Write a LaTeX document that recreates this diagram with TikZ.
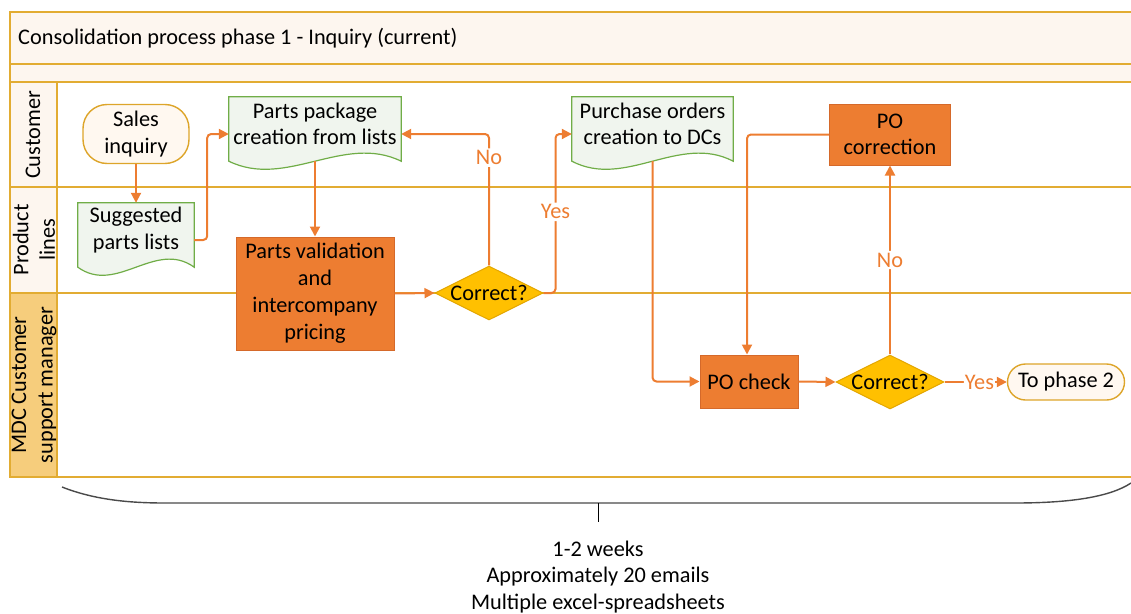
\documentclass[tikz,border=0pt]{standalone}
\usepackage{fontspec}
\setmainfont{Carlito}
\usetikzlibrary{shapes.geometric,arrows.meta,calc}

\pgfdeclarelayer{lanes}
\pgfdeclarelayer{shapes}
\pgfsetlayers{lanes,shapes,main}

\definecolor{laneline}{HTML}{E2AC32}
\definecolor{headfill}{HTML}{FDF6EF}
\definecolor{mdcfill}{HTML}{F6CD7C}
\definecolor{flow}{HTML}{ED7D31}
\definecolor{taskfill}{HTML}{ED7D31}
\definecolor{taskdraw}{HTML}{D5692A}
\definecolor{decfill}{HTML}{FFC000}
\definecolor{decdraw}{HTML}{E3A600}
\definecolor{docfill}{HTML}{F0F5EE}
\definecolor{docdraw}{HTML}{70AD47}
\definecolor{termfill}{HTML}{FFF8F0}
\definecolor{termdraw}{HTML}{DDA52A}
\definecolor{bracecol}{HTML}{4A4A4A}

% wavy-bottom document outline around a named node
\newcommand\docoutline[1]{%
  \begin{pgfonlayer}{shapes}
    \path[docshape] (#1.north west) -- (#1.north east) -- ($(#1.south east)+(0,10)$)
      .. controls ($(#1.south west)!0.667!(#1.south east)+(0,-18)$)
      and ($(#1.south west)!0.333!(#1.south east)+(0,38)$)
      .. ($(#1.south west)+(0,10)$) -- cycle;
  \end{pgfonlayer}}

\tikzset{
  lane/.style={draw=laneline, line width=1.6pt},
  docbox/.style={rectangle, inner sep=0pt, minimum height=54pt, align=center},
  docshape/.style={fill=docfill, draw=docdraw, line width=1.2pt},
  task/.style={rectangle, fill=taskfill, draw=taskdraw, line width=1pt, inner sep=0pt, align=center},
  decision/.style={diamond, aspect=2, fill=decfill, draw=decdraw, line width=1pt, inner sep=0pt},
  terminal/.style={rectangle, rounded corners=#1, fill=termfill, draw=termdraw, line width=1.4pt, inner sep=0pt, align=center},
  flowline/.style={draw=flow, line width=2pt, rounded corners=4pt, -{Triangle[length=10pt,width=10pt]}},
  lbl/.style={text=flow, fill=white, inner sep=2pt},
  header/.style={rotate=90, align=center, inner sep=0pt},
}

\begin{document}
\begin{tikzpicture}[x=1pt, y=-1pt, font=\fontsize{22.3}{26.5}\selectfont]
\useasboundingbox (0,0) rectangle (1131,613);

% swimlane frame
\begin{pgfonlayer}{lanes}
  \fill[headfill] (10,12) rectangle (1131,82);
  \fill[headfill] (10,82) rectangle (57,293);
  \fill[mdcfill] (10,293) rectangle (57,477);
  \draw[lane] (1131,12) -- (10,12) -- (10,477) -- (1131,477);
  \foreach \yy in {64,82,187,293} \draw[lane] (10,\yy) -- (1131,\yy);
  \draw[lane] (57,82) -- (57,477);
\end{pgfonlayer}

\node[anchor=west, inner sep=0pt] (title) at (18,38) {Consolidation process phase 1 - Inquiry (current)};
\node[header] (hcust) at (33,135) {Customer};
\node[header] (hprod) at (34,240) {Product\\lines};
\node[header] (hmdc) at (34,385) {MDC Customer\\support manager};

% process shapes
\node[terminal=24pt, minimum width=106pt, minimum height=59pt] (sales) at (136,134) {Sales\\inquiry};
\node[docbox, minimum width=116pt] (sugg) at (136,230) {Suggested\\parts lists};
\node[docbox, minimum width=172pt] (pkg) at (315,124) {Parts package\\creation from lists};
\node[task, minimum width=158pt, minimum height=113pt, font=\fontsize{22.3}{27}\selectfont] (val) at (315,293.5) {Parts validation\\and\\intercompany\\pricing};
\node[decision, minimum width=107pt, minimum height=53pt] (dec1) at (489,293) {Correct?};
\node[docbox, minimum width=161pt] (po) at (652.5,124) {Purchase orders\\creation to DCs};
\node[task, minimum width=121pt, minimum height=61pt] (pocor) at (890,134.5) {PO\\correction};
\node[task, minimum width=98pt, minimum height=53pt] (pochk) at (749,381.5) {PO check};
\node[decision, minimum width=104pt, minimum height=53pt] (dec2) at (890,382) {Correct?};
\node[terminal=18pt, minimum width=117pt, minimum height=36pt] (end) at (1066,382) {To phase 2};

\docoutline{sugg}
\docoutline{pkg}
\docoutline{po}

% connectors
\draw[flowline] (sales.south) -- (sugg.north);
\draw[flowline] ([yshift=-10pt]sugg.east) -- ++(13,0) |- ([yshift=-10pt]pkg.west);
\draw[flowline] ([yshift=-10pt]pkg.south) -- (val.north);
\draw[flowline] (val.east) -- (dec1.west);
\draw[flowline] (dec1.north) |- node[lbl, pos=0.41] {No} ([yshift=-10pt]pkg.east);
\draw[flowline] (dec1.east) -- ++(12,0) |- node[lbl, pos=0.255] {Yes} ([yshift=-10pt]po.west);
\draw[flowline] ([yshift=-10pt]po.south) |- (pochk.west);
\draw[flowline] (pocor.west) -| ([xshift=-2pt]pochk.north);
\draw[flowline] (pochk.east) -- (dec2.west);
\draw[flowline] (dec2.north) -- node[lbl, pos=0.5] {No} (pocor.south);
\draw[flowline] (dec2.east) -- node[lbl, inner sep=1pt, pos=0.56] {Yes} (end.west);

% duration brace and notes
\coordinate (bracemid) at (598,503);
\coordinate (bracetip) at (598,522);
\draw[bracecol, line width=1.4pt] (62,487) .. controls (95,500) and (130,503) .. (165,503)
  -- (1015,503) .. controls (1070,503) and (1110,497) .. (1131,483);
\draw[black, line width=0.8pt] (bracemid) -- (bracetip);
\node[align=center, inner sep=0pt] (notes) at (598,577) {1-2 weeks\\Approximately 20 emails\\Multiple excel-spreadsheets};
\end{tikzpicture}
\end{document}
